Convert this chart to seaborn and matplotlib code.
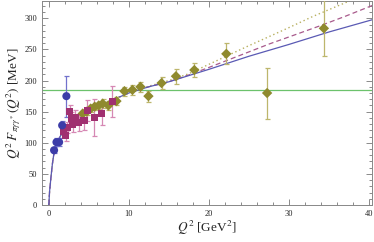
import numpy as np
import pandas as pd
import matplotlib
matplotlib.use("Agg")
import matplotlib.pyplot as plt
from matplotlib.ticker import MultipleLocator
import seaborn as sns

sns.set_style("ticks")
plt.rcParams['font.family'] = ['Liberation Serif', 'DejaVu Serif']
plt.rcParams['mathtext.fontset'] = 'stix'

# CELLO-like points (blue circles)
cello_q2 = [0.66, 0.96, 1.29, 1.67, 2.2]
cello_y = [88, 101, 101, 128, 175]
cello_err = [5, 6, 6, 7, 33]

# CLEO-like points (purple squares)
cleo_q2 = [1.85, 2.1, 2.3, 2.6, 2.8, 3.0, 3.3, 3.75, 4.4, 4.8, 5.7, 6.6, 7.96]
cleo_y = [118, 111, 125, 150, 139, 129, 141, 132, 136, 152, 141, 147, 166]
cleo_err = [8, 8, 9, 10, 11, 12, 12, 13, 15, 17, 30, 18, 25]

# BaBar-like points (olive diamonds)
babar_q2 = [4.24, 4.74, 5.24, 5.74, 6.24, 6.74, 7.45, 8.46, 9.46, 10.46, 11.46,
            12.46, 14.1, 15.9, 18.2, 22.2, 27.3, 34.4]
babar_y = [147, 150, 155, 158, 160, 163, 160, 167, 183, 185, 190,
           175, 196, 207, 217, 243, 180, 284]
babar_err = [6, 6, 6, 6, 6, 7, 7, 7, 7, 8, 8, 9, 10, 12, 12, 17, 41, 45]

# theory curves
solid_q2 = [0, 0.1, 0.25, 0.45, 0.7, 1, 1.5, 2, 3, 4, 5, 6, 8, 10, 12.5, 15,
            17.5, 20, 25, 30, 35, 40.5]
solid_y = [0, 22, 42, 66, 88, 100, 112, 120, 132, 141, 149, 156, 169, 180, 190, 198,
           208, 218, 239, 258, 278, 298]
dashed_q2 = [0, 0.1, 0.25, 0.45, 0.7, 1, 1.5, 2, 3, 4, 5, 6, 8, 10, 12.5, 15,
             17.5, 20, 25, 27.6, 30, 33.9, 37, 40.5]
dashed_y = [0, 22, 42, 66, 88, 100, 112, 120, 132, 141, 149, 156, 169, 180, 190, 198,
            209, 221, 246, 259, 270, 288, 303, 321]
dotted_q2 = [0, 0.1, 0.25, 0.45, 0.7, 1, 1.5, 2, 3, 4, 5, 6, 8, 10, 12.5, 15,
             17.5, 20, 22.5, 25, 27.6, 30, 33, 37.6, 40.5]
dotted_y = [0, 22, 42, 66, 88, 100, 112, 120, 132, 141, 149, 156, 169, 180, 191, 200,
            211, 226, 241, 256, 271, 285, 303, 328, 345]

asymptote = 185

blue = "#3c3ca8"
purple = "#a03070"
olive = "#8f8a2e"

my_dpi = 100
fig = plt.figure(figsize=(374 / my_dpi, 242 / my_dpi), dpi=my_dpi)
ax = fig.add_axes([0.1123, 0.153, 0.882, 0.843])

ax.axhline(asymptote, color="#6cc26c", lw=0.9, zorder=1)

curves = pd.DataFrame({"q2": dotted_q2, "y": dotted_y})
sns.lineplot(x="q2", y="y", data=curves, ax=ax, color="#b8b060", lw=1.0,
             linestyle=(0, (1, 2)), sort=False, zorder=2)
curves = pd.DataFrame({"q2": dashed_q2, "y": dashed_y})
sns.lineplot(x="q2", y="y", data=curves, ax=ax, color="#a85a8c", lw=0.9,
             linestyle=(0, (4, 2.5)), sort=False, zorder=2)
curves = pd.DataFrame({"q2": solid_q2, "y": solid_y})
sns.lineplot(x="q2", y="y", data=curves, ax=ax, color="#5a5ab4", lw=0.9,
             sort=False, zorder=2)

sets = [
    (babar_q2, babar_y, babar_err, olive, "#bdb66c", "D", 28),
    (cleo_q2, cleo_y, cleo_err, purple, "#d688b4", "s", 26),
    (cello_q2, cello_y, cello_err, blue, "#7272cc", "o", 34),
]
for q2, y, err, col, ecol, mk, sz in sets:
    ax.errorbar(q2, y, yerr=err, fmt="none", ecolor=ecol, elinewidth=0.9,
                capsize=1.8, capthick=0.9, zorder=3)
    pts = pd.DataFrame({"q2": q2, "y": y})
    sns.scatterplot(x="q2", y="y", data=pts, ax=ax, color=col, marker=mk,
                    s=sz, edgecolor="none", zorder=4)

ax.set_xlim(-0.85, 40.4)
ax.set_ylim(0, 328)
ax.xaxis.set_major_locator(MultipleLocator(10))
ax.xaxis.set_minor_locator(MultipleLocator(2))
ax.yaxis.set_major_locator(MultipleLocator(50))
ax.yaxis.set_minor_locator(MultipleLocator(10))
ax.tick_params(which="both", direction="in", top=True, right=True,
               colors="#777777", labelcolor="#222222", labelsize=6, width=0.6)
ax.tick_params(which="major", length=4)
ax.tick_params(which="minor", length=2)
for sp in ax.spines.values():
    sp.set_color("#888888")
    sp.set_linewidth(0.7)

ax.set_xlabel(r"$Q^2$ [GeV$^2$]", fontsize=9.5, labelpad=1)
ax.set_ylabel(r"$Q^2\;F_{\pi\gamma\gamma^*}(Q^2)$ [MeV]", fontsize=9.5, labelpad=1)

fig.savefig("out.png", dpi=my_dpi)
